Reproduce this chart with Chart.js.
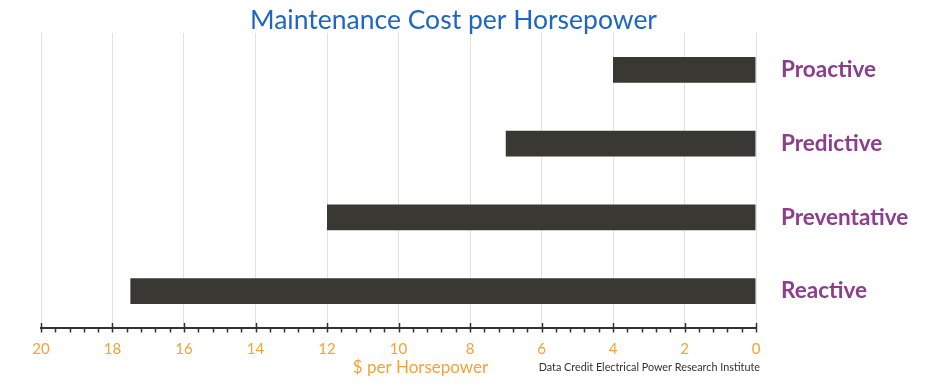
<!DOCTYPE html>
<html>
<head>
<meta charset="utf-8">
<script src="https://cdn.jsdelivr.net/npm/chart.js@4/dist/chart.umd.min.js"></script>
<style>
html,body{margin:0;padding:0;background:#fff;}
#wrap{width:929px;height:388px;}
</style>
</head>
<body>
<div id="wrap"><canvas id="c" width="929" height="388"></canvas></div>
<script>
const categories = ["Proactive", "Predictive", "Preventative", "Reactive"];
const costPerHp = [4, 7, 12, 17.5];
const xMin = 0, xMax = 20, majorStep = 2, minorStep = 0.4;
const chartTitle = "Maintenance Cost per Horsepower";
const axisTitle = "$ per Horsepower";
const creditText = "Data Credit Electrical Power Research Institute";

const FONT = "Lato, 'Open Sans', sans-serif";
const ORANGE = "#F6A235";
const PURPLE = "#8C3D8E";
const BLUE = "#1F66C4";
const BAR = "#3A3833";

const decorPlugin = {
  id: 'decorPlugin',
  afterDraw(chart) {
    const ctx = chart.ctx;
    const x = chart.scales.x;
    const area = chart.chartArea;
    const yb = area.bottom;
    ctx.save();
    ctx.strokeStyle = '#333';
    ctx.lineWidth = 1.5;
    const n = Math.round((xMax - xMin) / minorStep);
    for (let i = 0; i <= n; i++) {
      const v = xMin + i * minorStep;
      const px = Math.round(x.getPixelForValue(v)) + 0.5;
      const isMajor = Math.abs(v / majorStep - Math.round(v / majorStep)) < 1e-6;
      ctx.beginPath();
      ctx.moveTo(px, isMajor ? yb - 5 : yb);
      ctx.lineTo(px, yb + 4.5);
      ctx.stroke();
    }
    // chart title
    ctx.textBaseline = 'middle';
    ctx.textAlign = 'center';
    ctx.fillStyle = BLUE;
    ctx.font = "26.5px " + FONT;
    ctx.fillText(chartTitle, (area.left + area.right) / 2 + 55, area.top - 13);
    // axis title & credit
    ctx.fillStyle = ORANGE;
    ctx.font = "17px " + FONT;
    ctx.fillText(axisTitle, (area.left + area.right) / 2 + 22, yb + 40);
    ctx.fillStyle = '#333';
    ctx.font = "10.8px " + FONT;
    ctx.textAlign = 'right';
    ctx.fillText(creditText, area.right + 4, yb + 40);
    ctx.restore();
  }
};

new Chart(document.getElementById('c'), {
  type: 'bar',
  data: {
    labels: categories,
    datasets: [{
      data: costPerHp,
      backgroundColor: BAR,
      borderWidth: 0,
      barPercentage: 0.35,
      categoryPercentage: 1.0
    }]
  },
  plugins: [decorPlugin],
  options: {
    indexAxis: 'y',
    responsive: false,
    animation: false,
    devicePixelRatio: 1,
    layout: { padding: { left: 41, right: 5, top: 33, bottom: 0 } },
    plugins: {
      legend: { display: false },
      tooltip: { enabled: false },
      title: { display: false }
    },
    scales: {
      x: {
        type: 'linear',
        reverse: true,
        min: xMin,
        max: xMax,
        afterFit(s) { s.height = 60; },
        ticks: {
          stepSize: majorStep,
          color: ORANGE,
          font: { family: FONT, size: 15 },
          padding: 12,
          maxRotation: 0
        },
        grid: { color: '#e2e2e2', lineWidth: 1, drawTicks: false },
        border: { display: true, color: '#333', width: 2 }
      },
      y: {
        position: 'right',
        afterFit(s) { s.width = 168; s.paddingTop = 0; s.paddingBottom = 0; },
        ticks: {
          color: PURPLE,
          font: { family: FONT, size: 22.5, weight: 'bold' },
          padding: 25,
          crossAlign: 'near'
        },
        grid: { display: false, drawTicks: false },
        border: { display: false }
      }
    }
  }
});
</script>
</body>
</html>
